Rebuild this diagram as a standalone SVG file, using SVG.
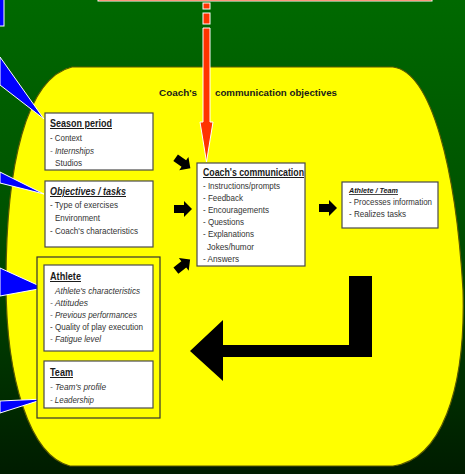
<svg xmlns="http://www.w3.org/2000/svg" width="465" height="474" viewBox="0 0 465 474">
<defs>
<linearGradient id="bg" x1="0" y1="0" x2="0" y2="1">
<stop offset="0" stop-color="#006900"/>
<stop offset="0.45" stop-color="#005200"/>
<stop offset="1" stop-color="#001c00"/>
</linearGradient>
<path id="sarrow" d="M-9,-4 L1,-4 L1,-8 L9,0 L1,8 L1,4 L-9,4 Z"/>
</defs>
<style>
.box{fill:#ffffff;stroke:#4a4a4a;stroke-width:1.2}
.wedge{fill:#0000ff;stroke:#ffffff;stroke-width:1}
.t{font-family:"Liberation Sans",Arial,sans-serif;font-size:9.5px;fill:#333333}
.h{font-family:"Liberation Sans",Arial,sans-serif;font-size:10px;font-weight:bold;fill:#1a1a1a;text-decoration:underline}
.i{font-style:italic}
.title{font-family:"Liberation Sans",Arial,sans-serif;font-size:9.5px;font-weight:bold;fill:#1a1a1a}
.blk{fill:#000000}
.org{fill:#ff3300;stroke:#ffffff;stroke-width:1}
</style>
<rect x="0" y="0" width="465" height="474" fill="url(#bg)"/>
<g id="top-left-box"><rect x="-5" y="-5" width="9" height="31" fill="#0000ff" stroke="#ffffff" stroke-width="1"/></g>
<g id="top-box"><rect x="98" y="-20" width="334" height="21" fill="#ff3300" stroke="#ffffff" stroke-width="1"/></g>
<g id="yellow-area"><path d="M72,67 L393,67 C432,72 456,170 463,290 C466,392 440,460 393,466 L70,466 C30,456 6,380 6,282 C6,165 26,78 72,67 Z" fill="#ffff00" stroke="#5a5a00" stroke-width="1.2"/></g>
<text class="title" x="159" y="96" textLength="38" lengthAdjust="spacingAndGlyphs">Coach's</text>
<text class="title" x="215" y="96" textLength="122" lengthAdjust="spacingAndGlyphs">communication objectives</text>
<g id="connectors">
<rect class="org" x="203" y="3" width="7" height="6"/>
<rect class="org" x="203" y="13" width="7" height="11"/>
<path class="org" d="M203,28 L210,28 L210,122 L213,122 L206.5,162 L200,122 L203,122 Z"/>
<polygon class="wedge" points="0,57 0,85 44,119"/>
<polygon class="wedge" points="0,172 0,183 44,194"/>
<polygon class="wedge" points="0,268 0,296 44,288"/>
<polygon class="wedge" points="0,401 0,413 44,399"/>
<use href="#sarrow" class="blk" transform="translate(183,163) rotate(35)"/>
<use href="#sarrow" class="blk" transform="translate(183,209)"/>
<use href="#sarrow" class="blk" transform="translate(183,265) rotate(-38)"/>
<use href="#sarrow" class="blk" transform="translate(328,208)"/>
<polygon class="blk" points="349,276 372,276 372,357 223,357 223,381 190,351 223,320 223,345 349,345"/>
</g>
<g id="season-period">
<rect class="box" x="45" y="113" width="108" height="57"/>
<text class="h" x="50" y="127" textLength="62" lengthAdjust="spacingAndGlyphs">Season period</text>
<text class="t" x="50" y="141" textLength="32" lengthAdjust="spacingAndGlyphs">- Context</text>
<text class="t i" x="50" y="154" textLength="44" lengthAdjust="spacingAndGlyphs">- Internships</text>
<text class="t" x="55" y="166" textLength="27" lengthAdjust="spacingAndGlyphs">Studios</text>
</g>
<g id="objectives-tasks">
<rect class="box" x="45" y="181" width="108" height="66"/>
<text class="h i" x="50" y="195" textLength="76" lengthAdjust="spacingAndGlyphs">Objectives / tasks</text>
<text class="t" x="50" y="208" textLength="68" lengthAdjust="spacingAndGlyphs">- Type of exercises</text>
<text class="t" x="55" y="221" textLength="45" lengthAdjust="spacingAndGlyphs">Environment</text>
<text class="t" x="50" y="234" textLength="88" lengthAdjust="spacingAndGlyphs">- Coach's characteristics</text>
</g>
<g id="athlete-team-group">
<rect x="37" y="257" width="123" height="161" fill="#ffff00" stroke="#333333" stroke-width="1.2"/>
</g>
<g id="athlete">
<rect class="box" x="44" y="265" width="109" height="86"/>
<text class="h" x="50" y="280" textLength="31" lengthAdjust="spacingAndGlyphs">Athlete</text>
<text class="t i" x="55" y="294" textLength="85" lengthAdjust="spacingAndGlyphs">Athlete's characteristics</text>
<text class="t i" x="50" y="306" textLength="38" lengthAdjust="spacingAndGlyphs">- Attitudes</text>
<text class="t i" x="50" y="318" textLength="87" lengthAdjust="spacingAndGlyphs">- Previous performances</text>
<text class="t" x="50" y="330" textLength="93" lengthAdjust="spacingAndGlyphs">- Quality of play execution</text>
<text class="t i" x="50" y="342" textLength="51" lengthAdjust="spacingAndGlyphs">- Fatigue level</text>
</g>
<g id="team">
<rect class="box" x="44" y="361" width="109" height="47"/>
<text class="h" x="50" y="376" textLength="23" lengthAdjust="spacingAndGlyphs">Team</text>
<text class="t i" x="50" y="390" textLength="56" lengthAdjust="spacingAndGlyphs">- Team's profile</text>
<text class="t i" x="50" y="403" textLength="44" lengthAdjust="spacingAndGlyphs">- Leadership</text>
</g>
<g id="coach-communication">
<rect class="box" x="197" y="163" width="108" height="103"/>
<text class="h" x="203" y="176" textLength="101" lengthAdjust="spacingAndGlyphs">Coach's communication</text>
<text class="t" x="203" y="189" textLength="77" lengthAdjust="spacingAndGlyphs">- Instructions/prompts</text>
<text class="t" x="203" y="201" textLength="40" lengthAdjust="spacingAndGlyphs">- Feedback</text>
<text class="t" x="203" y="213" textLength="66" lengthAdjust="spacingAndGlyphs">- Encouragements</text>
<text class="t" x="203" y="225" textLength="41" lengthAdjust="spacingAndGlyphs">- Questions</text>
<text class="t" x="203" y="237" textLength="51" lengthAdjust="spacingAndGlyphs">- Explanations</text>
<text class="t" x="207" y="250" textLength="47" lengthAdjust="spacingAndGlyphs">Jokes/humor</text>
<text class="t" x="203" y="262" textLength="36" lengthAdjust="spacingAndGlyphs">- Answers</text>
</g>
<g id="athlete-team">
<rect class="box" x="342" y="182" width="96" height="46"/>
<text class="h i" x="349" y="193" font-size="8" style="font-size:8px" textLength="49" lengthAdjust="spacingAndGlyphs">Athlete / Team</text>
<text class="t" x="349" y="205" style="font-size:9px" textLength="83" lengthAdjust="spacingAndGlyphs">- Processes information</text>
<text class="t" x="349" y="217" style="font-size:9px" textLength="57" lengthAdjust="spacingAndGlyphs">- Realizes tasks</text>
</g>
</svg>
